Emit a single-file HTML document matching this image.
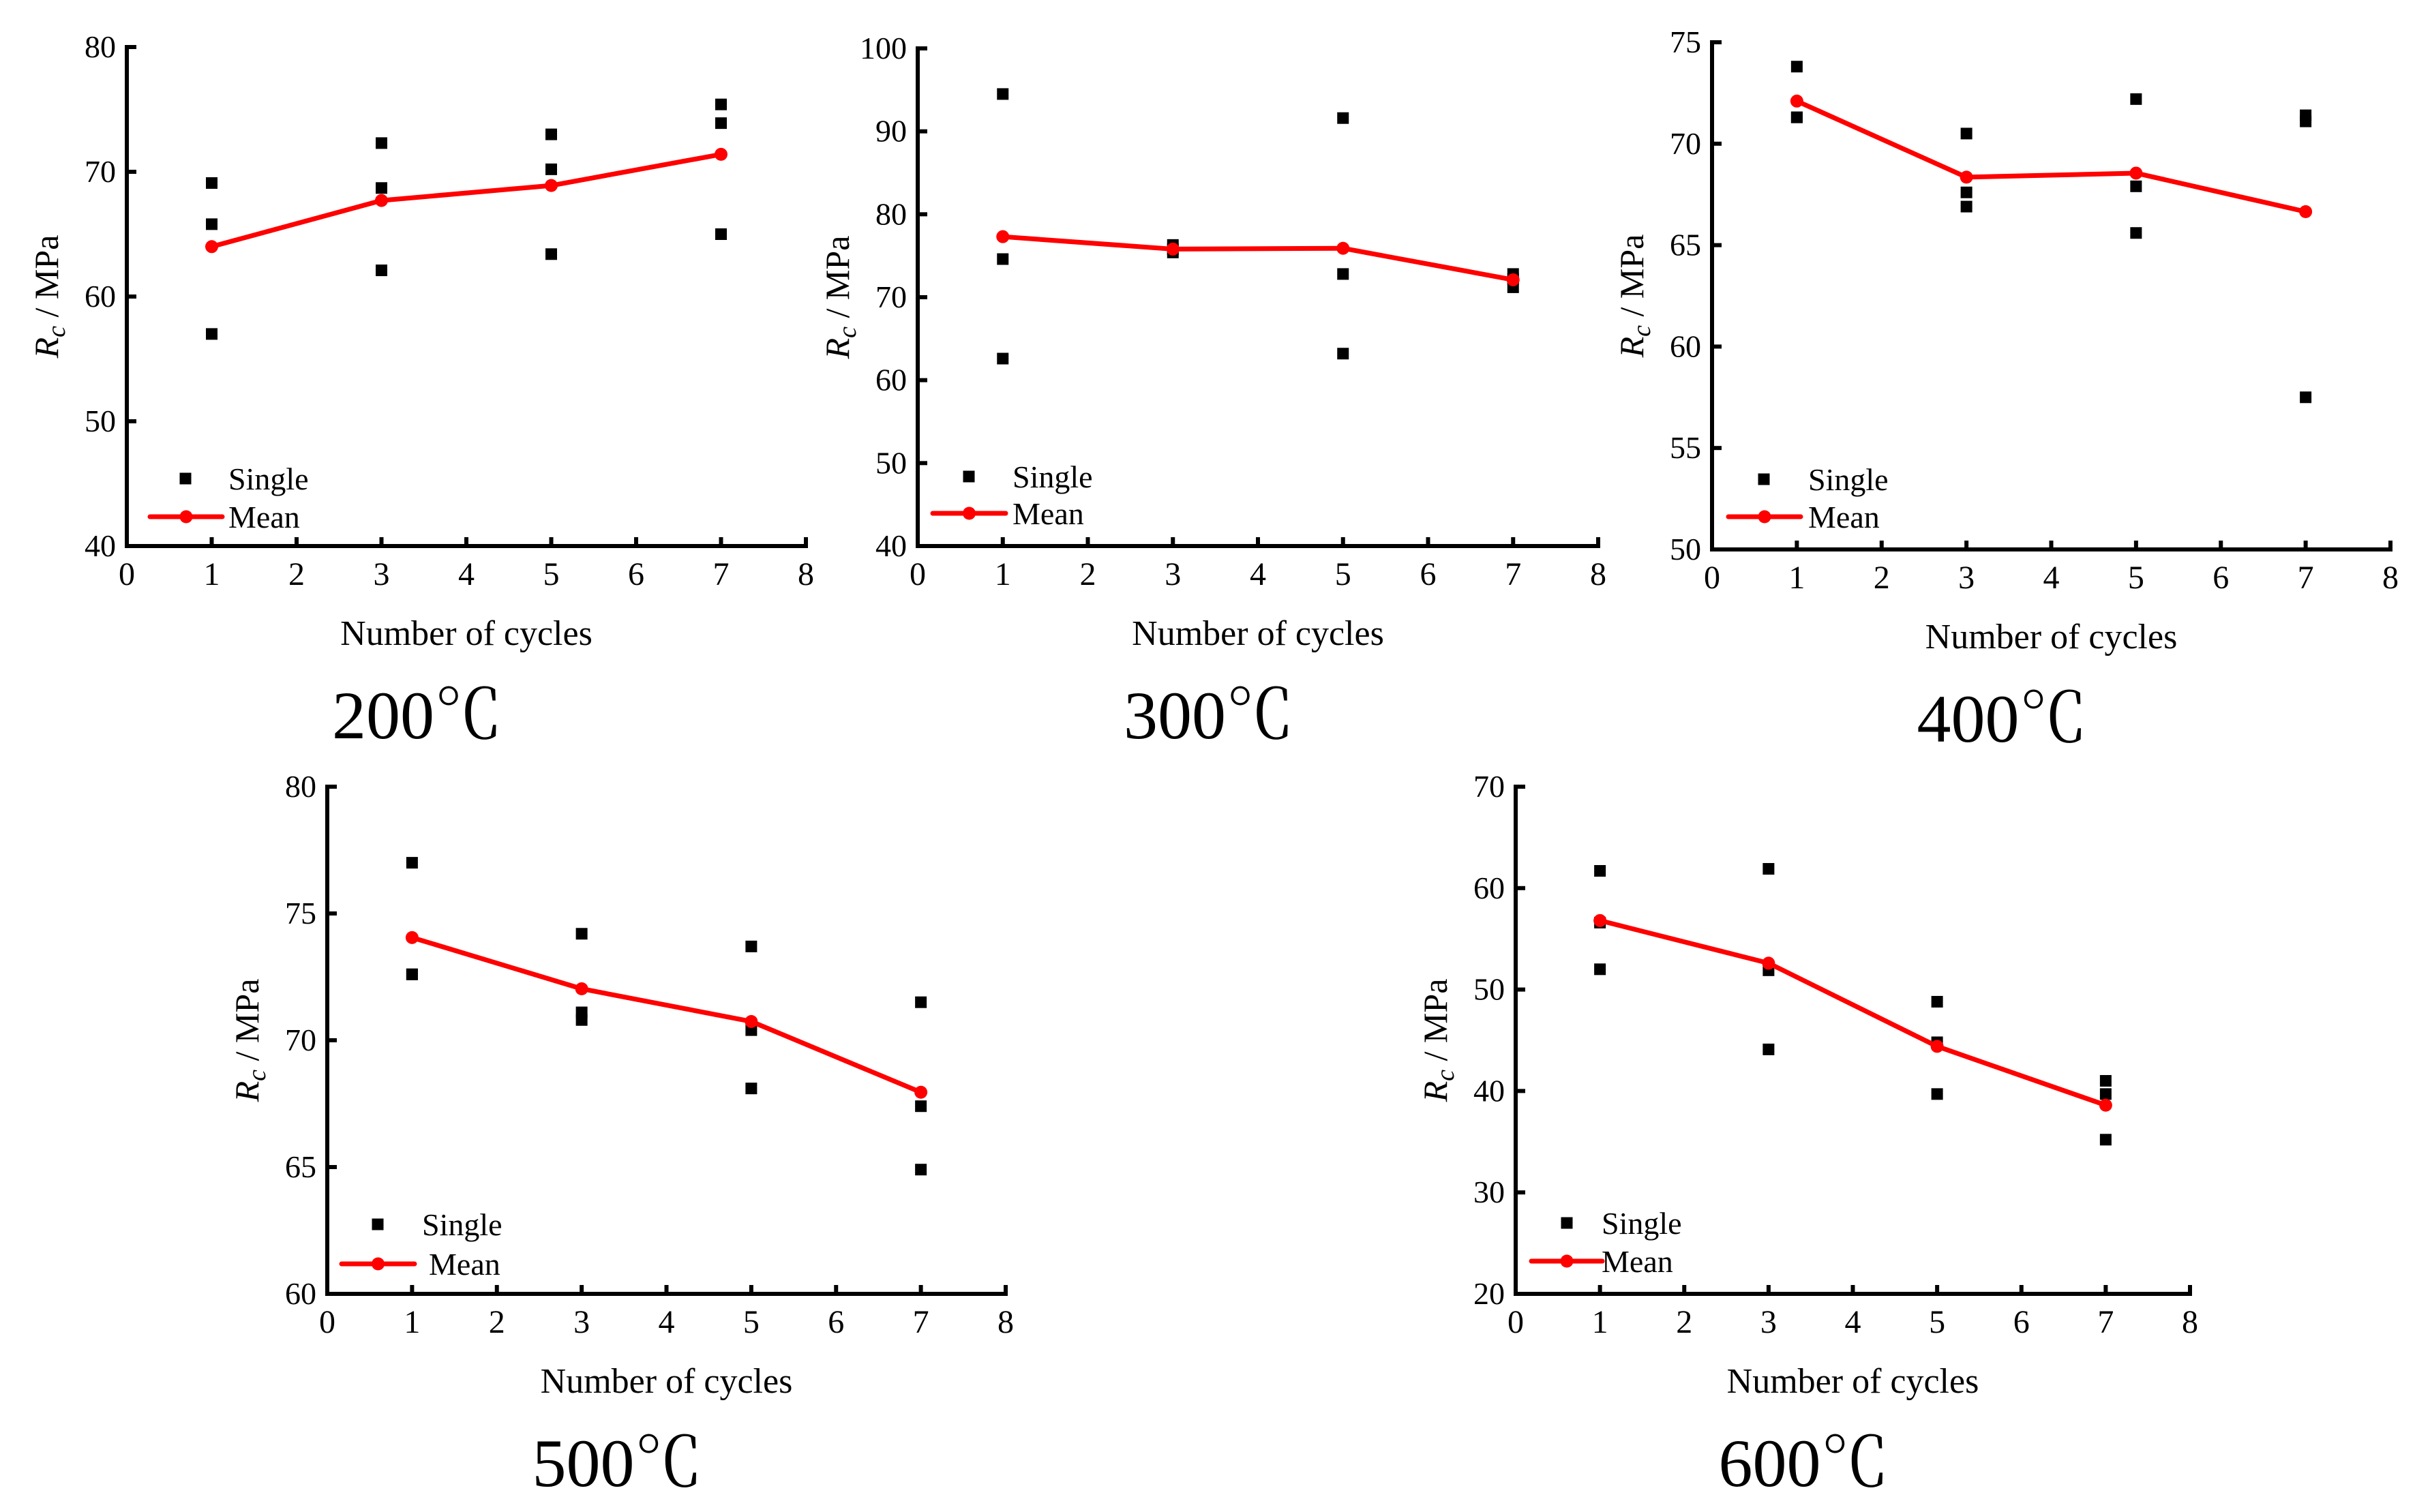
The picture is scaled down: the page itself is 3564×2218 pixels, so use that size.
<!DOCTYPE html>
<html><head><meta charset="utf-8"><style>
html,body{margin:0;padding:0;background:#fff}
svg{display:block}
text{font-family:"Liberation Serif","Noto Serif CJK SC",serif;fill:#000}
</style></head><body>
<svg id="fig" width="3564" height="2218" viewBox="0 0 3564 2218" xmlns="http://www.w3.org/2000/svg"></svg>
<script>
const cycles = [1, 3, 5, 7];
const single200 = [[69.1, 65.8, 57.0], [72.3, 68.7, 62.1], [73.0, 70.2, 63.4], [75.4, 73.9, 65.0]];
const mean200 = [64.0, 67.7, 68.9, 71.4];
const single300 = [[94.5, 74.6, 62.6], [76.3, 75.8, 75.4], [91.6, 72.8, 63.2], [72.8, 72.2, 71.2]];
const mean300 = [77.3, 75.8, 75.9, 72.1];
const single400 = [[73.8, 71.3, 71.3], [70.5, 67.6, 66.9], [72.2, 67.9, 65.6], [71.4, 71.1, 57.5]];
const mean400 = [72.1, 68.35, 68.55, 66.65];
const single500 = [[77.0, 72.6, 72.6], [74.2, 71.1, 70.8], [73.7, 70.4, 68.1], [71.5, 67.4, 64.9]];
const mean500 = [74.05, 72.03, 70.74, 67.95];
const single600 = [[61.7, 56.6, 52.0], [61.9, 51.9, 44.1], [48.8, 44.8, 39.7], [41.0, 39.7, 35.2]];
const mean600 = [56.8, 52.6, 44.4, 38.6];
const xTicks = [0, 1, 2, 3, 4, 5, 6, 7, 8];
const yTicks200 = [40, 50, 60, 70, 80];
const yTicks300 = [40, 50, 60, 70, 80, 90, 100];
const yTicks400 = [50, 55, 60, 65, 70, 75];
const yTicks500 = [60, 65, 70, 75, 80];
const yTicks600 = [20, 30, 40, 50, 60, 70];
const titles = ["200", "300", "400", "500", "600"];

const panels = [
 {id:"200", s:single200, m:mean200, yt:yTicks200, x0:186, x1:1182, yT:69, yB:801, lsx:86, ltx:149, ltx2:149, lsy:-99, lmy:-43, lx1:34, lx2:140},
 {id:"300", s:single300, m:mean300, yt:yTicks300, x0:1346, x1:2344, yT:71, yB:801, lsx:75, ltx:139, ltx2:139, lsy:-102, lmy:-48, lx1:22, lx2:129},
 {id:"400", s:single400, m:mean400, yt:yTicks400, x0:2511, x1:3506, yT:62, yB:806, lsx:76, ltx:141, ltx2:141, lsy:-103, lmy:-48, lx1:24, lx2:130},
 {id:"500", s:single500, m:mean500, yt:yTicks500, x0:480, x1:1475, yT:1154, yB:1898, lsx:74, ltx:139, ltx2:149, lsy:-102, lmy:-44, lx1:21, lx2:128},
 {id:"600", s:single600, m:mean600, yt:yTicks600, x0:2223, x1:3212, yT:1154, yB:1898, lsx:75, ltx:126, ltx2:126, lsy:-104, lmy:-48, lx1:23, lx2:127}
];
const NS = "http://www.w3.org/2000/svg";
const fig = document.getElementById("fig");
function mk(tag, attrs, parent) {
  const e = document.createElementNS(NS, tag);
  for (const k in attrs) e.setAttribute(k, attrs[k]);
  parent.appendChild(e);
  return e;
}
panels.forEach((p, pi) => {
  const g = mk("g", {}, fig);
  
  
  const ymin = p.yt[0], ymax = p.yt[p.yt.length - 1];
  const X = v => p.x0 + (v - 0) / 8 * (p.x1 - p.x0);
  const Y = v => p.yB - (v - ymin) / (ymax - ymin) * (p.yB - p.yT);
  const ax = mk("path", {d:`M${p.x0},${p.yT} L${p.x0},${p.yB} L${p.x1},${p.yB}`, fill:"none", stroke:"#000", "stroke-width":6, "stroke-linecap":"square"}, g);
  
  
  xTicks.forEach(t => {
    mk("line", {x1:X(t), x2:X(t), y1:p.yB, y2:p.yB - 13, stroke:"#000", "stroke-width":6}, g);
    const tl = mk("text", {x:X(t), y:p.yB + 57, "font-size":48, "text-anchor":"middle"}, g);
    tl.textContent = t;
    
    
  });
  p.yt.forEach(t => {
    mk("line", {x1:p.x0, x2:p.x0 + 14, y1:Y(t), y2:Y(t), stroke:"#000", "stroke-width":6}, g);
    const tl = mk("text", {x:p.x0 - 16, y:Y(t) + 15, "font-size":46, "text-anchor":"end"}, g);
    tl.textContent = t;
    
    
  });
  const cy = (p.yT + p.yB) / 2, cx = p.x0 - 118;
  const yt = mk("text", {x:cx, y:cy, "font-size":50, "text-anchor":"middle", transform:`rotate(-90 ${cx} ${cy})`, dy:17}, g);
  
  
  const r = mk("tspan", {"font-style":"italic"}, yt); r.textContent = "R";
  const c = mk("tspan", {"font-style":"italic", dy:10, "font-size":38}, yt); c.textContent = "c";
  const rest = mk("tspan", {dy:-10}, yt); rest.textContent = "  / MPa";
  const xt = mk("text", {x:(p.x0 + p.x1) / 2, y:p.yB + 145, "font-size":52, "text-anchor":"middle"}, g);
  xt.textContent = "Number of cycles";
  
  
  const pl = mk("text", {x:(p.x0 + p.x1) / 2 - 72, y:p.yB + 282, "font-size":100, "text-anchor":"middle"}, g);
  
  
  const n = mk("tspan", {}, pl); n.textContent = titles[pi];
  const deg = mk("tspan", {"font-family":"'Noto Serif CJK SC','Noto Sans CJK SC',serif"}, pl); deg.textContent = "℃";
  cycles.forEach((cx2, i) => {
    p.s[i].forEach(v => {
      const sq = mk("rect", {x:X(cx2) - 8.5, y:Y(v) - 8.5, width:17, height:17, fill:"#000"}, g);
      
      
    });
  });
  const pts = cycles.map((cx2, i) => X(cx2) + "," + Y(p.m[i])).join(" ");
  const ln = mk("polyline", {points:pts, fill:"none", stroke:"#ff0000", "stroke-width":7, "stroke-linejoin":"round"}, g);
  
  
  cycles.forEach((cx2, i) => {
    const ci = mk("circle", {cx:X(cx2), cy:Y(p.m[i]), r:9.5, fill:"#ff0000"}, g);
    
    
  });
  const lg = mk("g", {}, g);
  
  
  const sy = p.yB + p.lsy, my = p.yB + p.lmy;
  mk("rect", {x:p.x0 + p.lsx - 8.5, y:sy - 8.5, width:17, height:17, fill:"#000"}, lg);
  const t1 = mk("text", {x:p.x0 + p.ltx, y:sy + 16, "font-size":46}, lg); t1.textContent = "Single";
  mk("line", {x1:p.x0 + p.lx1, x2:p.x0 + p.lx2, y1:my, y2:my, stroke:"#ff0000", "stroke-width":7, "stroke-linecap":"round"}, lg);
  mk("circle", {cx:p.x0 + (p.lx1 + p.lx2) / 2, cy:my, r:9.5, fill:"#ff0000"}, lg);
  const t2 = mk("text", {x:p.x0 + p.ltx2, y:my + 16, "font-size":46}, lg); t2.textContent = "Mean";
});
</script>
</body></html>
